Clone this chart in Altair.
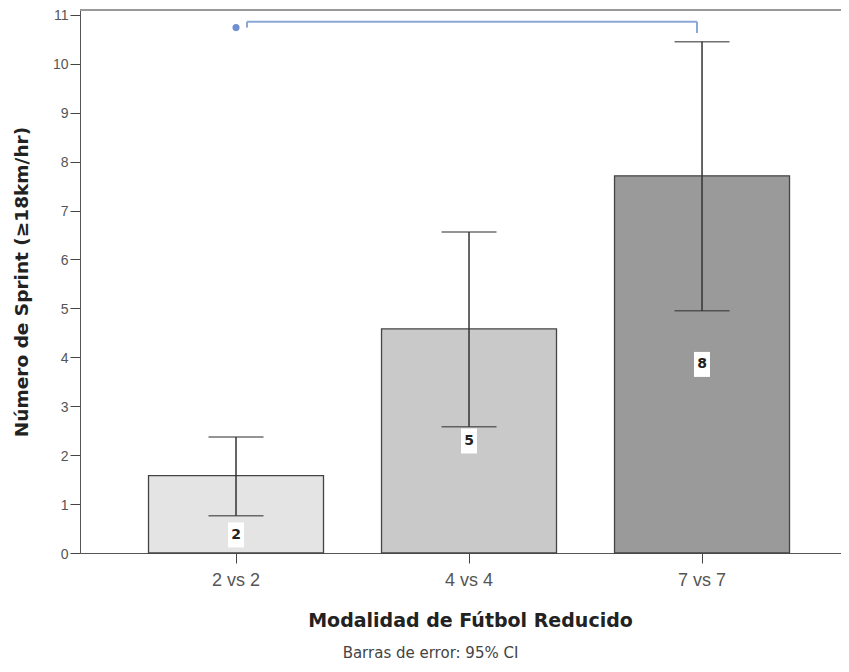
import altair as alt
import pandas as pd

categories = ["2 vs 2", "4 vs 4", "7 vs 7"]
means = [1.58, 4.58, 7.71]
lower = [0.76, 2.58, 4.95]
upper = [2.37, 6.56, 10.45]
labels = ["2", "5", "8"]
bar_colors = ["#e4e4e4", "#c9c9c9", "#9a9a9a"]

# significance bracket between 2 vs 2 and 7 vs 7
sig_from = ["2 vs 2"]
sig_to = ["7 vs 7"]
sig_level = [10.86]

df = pd.DataFrame({"cat": categories, "mean": means, "lower": lower,
                   "upper": upper, "label": labels})
sig = pd.DataFrame({"a": sig_from, "b": sig_to, "y": sig_level})

W, H = 761, 543
FONT = "Liberation Sans"
BFONT = "DejaVu Sans"

xscale = alt.Scale(domain=categories, paddingInner=0.249, paddingOuter=0.2575, align=0.571)
yscale = alt.Scale(domain=[0, 11.1], nice=False)

xenc = alt.X("cat:N", scale=xscale, sort=categories,
             axis=alt.Axis(title="Modalidad de Fútbol Reducido", labelAngle=0,
                           labelFontSize=18, labelColor="#555555", labelFont=FONT,
                           titleFontSize=19, titleFont=BFONT, titleColor="#222222",
                           titleFontWeight="bold", titlePadding=22, titleX=390,
                           tickSize=10, tickColor="#444444", domainColor="#555555",
                           labelPadding=8))
yaxis = alt.Axis(title="Número de Sprint (≥18km/hr)", values=list(range(12)),
                 labelFontSize=14, labelColor="#555555", labelFont=FONT,
                 titleFontSize=18.5, titleFont=BFONT, titleColor="#222222",
                 titleFontWeight="bold", titlePadding=21, grid=False,
                 tickSize=10, tickColor="#444444", domainColor="#555555",
                 labelPadding=2, labelOffset=1)

base = alt.Chart(df)

bars = base.mark_bar(stroke="#444444", strokeWidth=1.3).encode(
    x=xenc,
    y=alt.Y("mean:Q", scale=yscale, axis=yaxis),
    color=alt.Color("cat:N", scale=alt.Scale(domain=categories, range=bar_colors), legend=None),
)

err = base.mark_rule(color="#333333", strokeWidth=1.5).encode(
    x=alt.X("cat:N", scale=xscale, sort=categories),
    y=alt.Y("lower:Q", scale=yscale),
    y2="upper:Q",
)
cap_lo = base.mark_tick(color="#333333", size=55, thickness=1.5).encode(
    x=alt.X("cat:N", scale=xscale, sort=categories),
    y=alt.Y("lower:Q", scale=yscale),
)
cap_hi = base.mark_tick(color="#333333", size=55, thickness=1.5).encode(
    x=alt.X("cat:N", scale=xscale, sort=categories),
    y=alt.Y("upper:Q", scale=yscale),
)

lab = base.transform_calculate(
    ly="datum.lower - datum.mean/2 < 0 ? datum.lower - 0.39 : datum.mean/2"
)
boxes = lab.mark_point(shape="M-0.64,-1H0.64V1H-0.64Z", size=625, filled=True,
                       fill="white", opacity=1, strokeWidth=0).encode(
    x=alt.X("cat:N", scale=xscale, sort=categories),
    y=alt.Y("ly:Q", scale=yscale),
)
texts = lab.mark_text(font=BFONT, fontWeight="bold", fontSize=14,
                      color="#222222", baseline="middle").encode(
    x=alt.X("cat:N", scale=xscale, sort=categories),
    y=alt.Y("ly:Q", scale=yscale),
    text="label:N",
)

sigc = alt.Chart(sig)
blue = "#8aa8d6"
brk = sigc.mark_rule(color=blue, strokeWidth=2, xOffset=11, x2Offset=-5).encode(
    x=alt.X("a:N", scale=xscale, sort=categories),
    x2="b:N",
    y=alt.Y("y:Q", scale=yscale),
)
hook_l = sigc.transform_calculate(y2="datum.y - 0.12").mark_rule(
    color=blue, strokeWidth=2, xOffset=11).encode(
    x=alt.X("a:N", scale=xscale, sort=categories),
    y=alt.Y("y:Q", scale=yscale), y2="y2:Q",
)
hook_r = sigc.transform_calculate(y2="datum.y - 0.23").mark_rule(
    color=blue, strokeWidth=2, xOffset=-5).encode(
    x=alt.X("b:N", scale=xscale, sort=categories),
    y=alt.Y("y:Q", scale=yscale), y2="y2:Q",
)
dot = sigc.transform_calculate(yd="datum.y - 0.12").mark_point(
    color="#6f8fd0", filled=True, size=50, opacity=1).encode(
    x=alt.X("a:N", scale=xscale, sort=categories),
    y=alt.Y("yd:Q", scale=yscale),
)

topline = alt.Chart(sig).mark_rule(color="#999999", strokeWidth=2).encode(
    x=alt.value(0), x2=alt.value(W), y=alt.value(0)
)

chart = alt.layer(bars, err, cap_lo, cap_hi, boxes, texts, brk, hook_l, hook_r, dot, topline).properties(
    width=W, height=H,
    title=alt.TitleParams("Barras de error: 95% CI", orient="bottom", fontSize=15,
                          font=BFONT, fontWeight="normal", color="#444444",
                          offset=16, dx=-30),
    autosize=alt.AutoSizeParams(type="none"),
    padding={"left": 72, "top": 2, "right": 0, "bottom": 111},
).configure_view(fill="#efefef", stroke=None).configure(background="white")

chart.save("out.html", embed_options={"renderer": "svg", "actions": False})
